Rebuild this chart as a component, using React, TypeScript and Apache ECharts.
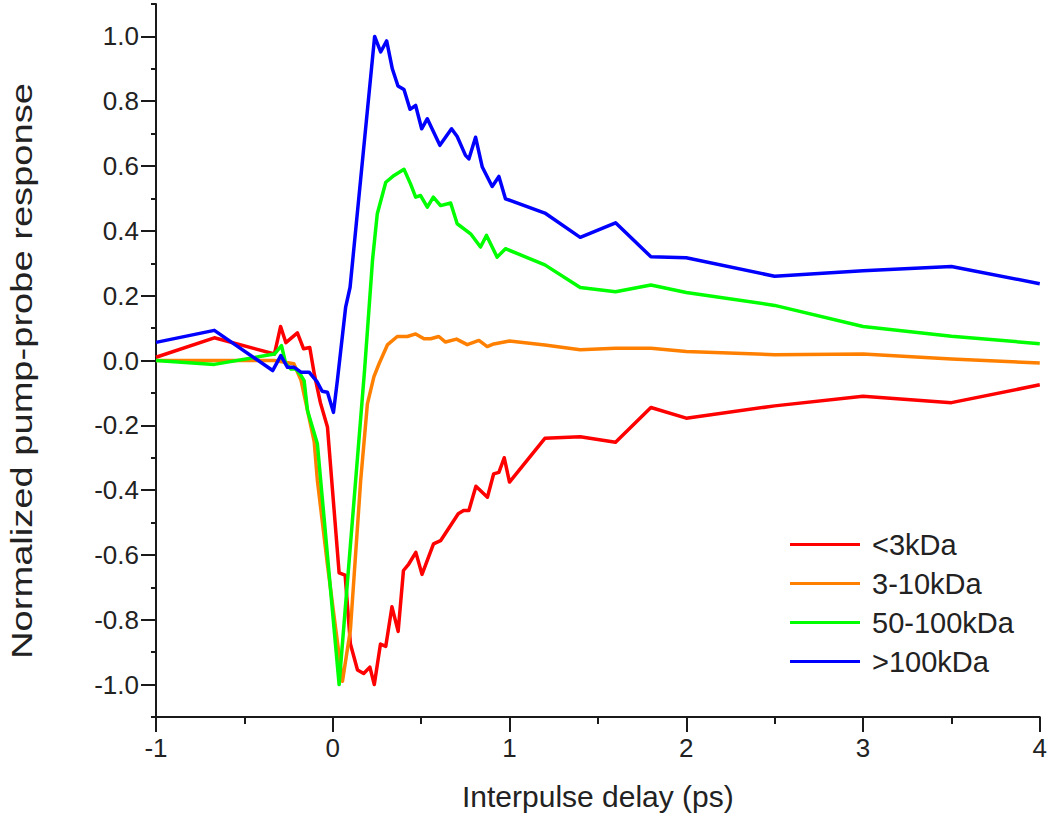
import React, { useEffect, useRef } from "react";
import * as echarts from "echarts";

const seriesNames = ["<3kDa", "3-10kDa", "50-100kDa", ">100kDa"];
const seriesColors = ["#ff0000", "#ff8000", "#00ff00", "#0000ff"];

const redX = [-1, -0.67, -0.33, -0.295, -0.265, -0.2, -0.165, -0.13, -0.105, -0.07, -0.03, 0.036, 0.07, 0.1, 0.14, 0.175, 0.21, 0.235, 0.27, 0.3, 0.335, 0.37, 0.4, 0.43, 0.47, 0.505, 0.57, 0.61, 0.71, 0.74, 0.77, 0.81, 0.875, 0.91, 0.94, 0.97, 1.0, 1.2, 1.4, 1.6, 1.8, 2.0, 2.5, 3.0, 3.5, 4.0];
const redY = [0.01, 0.07, 0.02, 0.105, 0.055, 0.085, 0.036, 0.04, -0.04, -0.13, -0.205, -0.655, -0.662, -0.875, -0.955, -0.966, -0.946, -1.0, -0.875, -0.882, -0.76, -0.836, -0.648, -0.628, -0.592, -0.66, -0.566, -0.556, -0.473, -0.463, -0.463, -0.388, -0.422, -0.35, -0.345, -0.3, -0.375, -0.24, -0.235, -0.252, -0.145, -0.178, -0.14, -0.11, -0.13, -0.075];

const orangeX = [-1, -0.67, -0.33, -0.22, -0.18, -0.105, -0.087, -0.03, 0.055, 0.1, 0.158, 0.196, 0.233, 0.262, 0.309, 0.365, 0.422, 0.469, 0.516, 0.554, 0.6, 0.638, 0.7, 0.761, 0.827, 0.874, 0.911, 1.0, 1.2, 1.4, 1.6, 1.8, 2.0, 2.5, 3.0, 3.5, 4.0];
const orangeY = [0.0, 0.0, 0.0, -0.01, -0.06, -0.25, -0.37, -0.63, -0.99, -0.83, -0.37, -0.134, -0.05, -0.01, 0.048, 0.074, 0.074, 0.082, 0.067, 0.067, 0.074, 0.057, 0.066, 0.049, 0.062, 0.043, 0.051, 0.06, 0.048, 0.033, 0.038, 0.038, 0.028, 0.018, 0.02, 0.005, -0.008];

const greenX = [-1, -0.67, -0.33, -0.29, -0.266, -0.237, -0.209, -0.18, -0.162, -0.143, -0.087, 0.036, 0.18, 0.225, 0.252, 0.3, 0.347, 0.403, 0.44, 0.469, 0.497, 0.535, 0.569, 0.61, 0.667, 0.704, 0.78, 0.836, 0.87, 0.93, 0.977, 1.2, 1.4, 1.6, 1.8, 2.0, 2.5, 3.0, 3.5, 4.0];
const greenY = [0.0, -0.012, 0.02, 0.046, -0.01, -0.026, -0.026, -0.046, -0.062, -0.154, -0.257, -1.0, -0.03, 0.31, 0.453, 0.55, 0.571, 0.59, 0.545, 0.504, 0.509, 0.473, 0.504, 0.478, 0.486, 0.422, 0.391, 0.35, 0.386, 0.319, 0.345, 0.295, 0.225, 0.212, 0.233, 0.21, 0.17, 0.105, 0.075, 0.052];

const blueX = [-1, -0.67, -0.34, -0.294, -0.256, -0.218, -0.18, -0.134, -0.087, -0.06, -0.03, 0.004, 0.026, 0.073, 0.098, 0.237, 0.271, 0.305, 0.337, 0.369, 0.403, 0.437, 0.469, 0.503, 0.535, 0.606, 0.672, 0.704, 0.751, 0.77, 0.808, 0.846, 0.902, 0.94, 0.977, 1.2, 1.4, 1.6, 1.8, 2.0, 2.5, 3.0, 3.5, 4.0];
const blueY = [0.056, 0.093, -0.031, 0.015, -0.021, -0.021, -0.036, -0.036, -0.067, -0.095, -0.098, -0.16, -0.062, 0.165, 0.226, 1.0, 0.952, 0.986, 0.9, 0.847, 0.836, 0.775, 0.787, 0.715, 0.746, 0.664, 0.715, 0.691, 0.633, 0.622, 0.689, 0.597, 0.537, 0.568, 0.499, 0.455, 0.38, 0.425, 0.32, 0.317, 0.26, 0.277, 0.29, 0.237];

const xMajorTicks = [-1, 0, 1, 2, 3, 4];
const yMajorTicks = [-1.0, -0.8, -0.6, -0.4, -0.2, 0.0, 0.2, 0.4, 0.6, 0.8, 1.0];
const xTitle = "Interpulse delay (ps)";
const yTitle = "Normalized pump-probe response";

const FONT = "'Liberation Sans', Arial, sans-serif";
const AXIS_COLOR = "#1a1a1a";
const TEXT_COLOR = "#222";

export default function App() {
  const ref = useRef<HTMLDivElement>(null);
  useEffect(() => {
    if (!ref.current) return;
    const chart = echarts.init(ref.current, undefined, { renderer: "svg" });
    const pairs = (xs: number[], ys: number[]) => xs.map((x, i) => [x, ys[i]]);
    const allX = [redX, orangeX, greenX, blueX];
    const allY = [redY, orangeY, greenY, blueY];
    const tickStyle = { color: AXIS_COLOR, width: 2 };
    chart.setOption({
      animation: false,
      backgroundColor: "#ffffff",
      grid: { left: 156, right: 9, top: 4, bottom: 113 },
      graphic: [
        {
          type: "text",
          x: 22,
          y: 371,
          rotation: Math.PI / 2,
          scaleX: 1.27,
          style: {
            text: yTitle,
            fontFamily: FONT,
            fontSize: 30,
            fill: TEXT_COLOR,
            align: "center",
            verticalAlign: "middle",
          },
        },
      ],
      xAxis: [
        {
          type: "value",
          min: -1,
          max: 4,
          interval: 0.5,
          position: "bottom",
          axisLine: { onZero: false, lineStyle: tickStyle },
          axisTick: { length: 7, lineStyle: tickStyle },
          axisLabel: { show: false },
          splitLine: { show: false },
          name: xTitle,
          nameLocation: "middle",
          nameGap: 64,
          nameTextStyle: { fontFamily: FONT, fontSize: 30, color: TEXT_COLOR },
        },
        {
          type: "value",
          min: -1,
          max: 4,
          position: "bottom",
          axisLine: { show: false, onZero: false },
          axisTick: { customValues: xMajorTicks, length: 15, lineStyle: tickStyle },
          axisLabel: {
            customValues: xMajorTicks,
            margin: 18,
            fontFamily: FONT,
            fontSize: 26,
            color: TEXT_COLOR,
            formatter: (v: number) => String(v),
          },
          splitLine: { show: false },
        },
      ],
      yAxis: [
        {
          type: "value",
          min: -1.1,
          max: 1.1,
          interval: 0.1,
          position: "left",
          axisLine: { show: true, onZero: false, lineStyle: tickStyle },
          axisTick: { length: 5, lineStyle: tickStyle },
          axisLabel: { show: false },
          splitLine: { show: false },
        },
        {
          type: "value",
          min: -1.1,
          max: 1.1,
          position: "left",
          axisLine: { show: false, onZero: false },
          axisTick: { customValues: yMajorTicks, length: 15, lineStyle: tickStyle },
          axisLabel: {
            customValues: yMajorTicks,
            margin: 17,
            fontFamily: FONT,
            fontSize: 26,
            color: TEXT_COLOR,
            formatter: (v: number) => v.toFixed(1),
          },
          splitLine: { show: false },
        },
      ],
      legend: {
        orient: "vertical",
        left: 790,
        top: 530,
        padding: 0,
        icon: "rect",
        itemWidth: 70,
        itemHeight: 3,
        itemGap: 10,
        data: seriesNames,
        textStyle: { fontFamily: FONT, fontSize: 29, color: TEXT_COLOR, padding: [0, 0, 0, 7] },
      },
      series: seriesNames.map((name, i) => ({
        name,
        type: "line",
        xAxisIndex: 0,
        yAxisIndex: 0,
        symbol: "none",
        showSymbol: false,
        color: seriesColors[i],
        lineStyle: { color: seriesColors[i], width: 3.5, join: "round" },
        data: pairs(allX[i], allY[i]),
        z: 2 + i,
      })),
    });
    return () => chart.dispose();
  }, []);
  return (
    <div
      ref={ref}
      style={{ position: "fixed", left: 0, top: 0, width: 1050, height: 830, background: "#fff" }}
    />
  );
}
